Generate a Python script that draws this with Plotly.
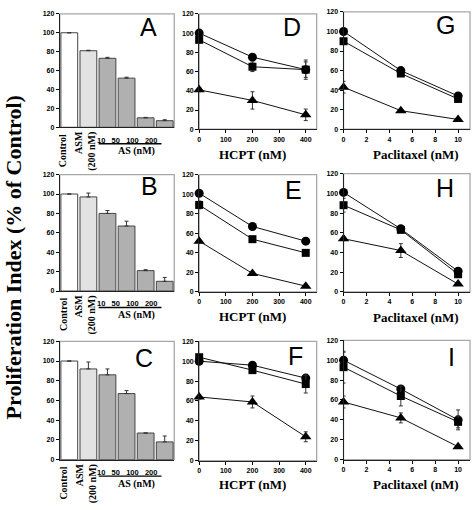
import plotly.graph_objects as go

W, H = 473, 510

# ---------------- data ----------------
bar_categories = ["Control", "ASM", "10", "50", "100", "200"]
bar_colors = ["#ffffff", "#e2e2e2", "#b0b0b0", "#b0b0b0", "#b0b0b0", "#b0b0b0"]

bar_A = [100, 81, 73, 52, 10, 7]
err_A = [0, 0.5, 1, 1, 0.5, 1]
bar_B = [100, 97, 80, 67, 21, 10]
err_B = [0, 4, 3, 5, 1, 4]
bar_C = [100, 92, 86, 67, 27, 18]
err_C = [0, 7, 6, 3, 0, 6]

hcpt_x = [0, 200, 400]
D_circle = [100, 75, 62]; D_circle_err = [2, 2, 8]
D_square = [93, 65, 62]; D_square_err = [2, 5, 10]
D_tri = [41, 30, 15]; D_tri_err = [2, 9, 6]

E_circle = [101, 67, 52]; E_circle_err = [2, 2, 3]
E_square = [89, 54, 40]; E_square_err = [4, 2, 2]
E_tri = [52, 19, 6]; E_tri_err = [2, 1, 1]

F_circle = [100, 96, 83]; F_circle_err = [2, 2, 2]
F_square = [104, 91, 77]; F_square_err = [2, 2, 9]
F_tri = [64, 59, 24]; F_tri_err = [2, 6, 5]

pac_x = [0, 5, 10]
G_circle = [100, 60, 34]; G_circle_err = [1, 1, 1]
G_square = [90, 57, 31]; G_square_err = [1, 1, 1]
G_tri = [43, 19, 10]; G_tri_err = [6, 1, 1]

H_circle = [101, 64, 21]; H_circle_err = [2, 2, 2]
H_square = [88, 63, 18]; H_square_err = [7, 2, 2]
H_tri = [54, 42, 8]; H_tri_err = [2, 7, 1]

I_circle = [100, 71, 40]; I_circle_err = [8, 2, 10]
I_square = [93, 64, 38]; I_square_err = [16, 10, 6]
I_tri = [58, 42, 13]; I_tri_err = [6, 5, 1]

y_ticks = [0, 20, 40, 60, 80, 100, 120]
hcpt_ticks = [0, 100, 200, 300, 400]
pac_ticks = [0, 2, 4, 6, 8, 10]

# ---------------- layout helpers ----------------
def fx(p):
    return p / W

def fy(p):
    return 1 - p / H

# panel boxes in pixels: (left, right, top, bottom)
boxes = {
    "A": (58, 173, 10, 125), "B": (58, 173, 173, 291), "C": (58, 173, 342, 462),
    "D": (198, 316, 10, 127), "E": (198, 316, 173, 292), "F": (198, 316, 342, 463),
    "G": (343, 470, 8, 127), "H": (343, 470, 172, 292), "I": (343, 470, 341, 462),
}
order = ["A", "B", "C", "D", "E", "F", "G", "H", "I"]
axn = {k: (i + 1) for i, k in enumerate(order)}

def xa(k):
    n = axn[k]
    return "x" if n == 1 else f"x{n}"

def ya(k):
    n = axn[k]
    return "y" if n == 1 else f"y{n}"

SERIF = "Liberation Serif, Times New Roman, serif"
SANS = "Liberation Sans, Arial, sans-serif"

fig = go.Figure()

bar_data = {"A": (bar_A, err_A), "B": (bar_B, err_B), "C": (bar_C, err_C)}
for k, (vals, errs) in bar_data.items():
    fig.add_trace(go.Bar(
        x=bar_categories, y=vals, xaxis=xa(k), yaxis=ya(k), width=0.88,
        marker=dict(color=bar_colors, line=dict(color="#444444", width=1)),
        error_y=dict(type="data", symmetric=False, array=errs, arrayminus=[0] * len(errs),
                     color="#333333", thickness=1, width=2),
        showlegend=False,
    ))

line_data = {
    "D": (hcpt_x, [(D_circle, D_circle_err, "circle", 9), (D_square, D_square_err, "square", 8), (D_tri, D_tri_err, "triangle-up", 10)]),
    "E": (hcpt_x, [(E_circle, E_circle_err, "circle", 9), (E_square, E_square_err, "square", 8), (E_tri, E_tri_err, "triangle-up", 10)]),
    "F": (hcpt_x, [(F_circle, F_circle_err, "circle", 9), (F_square, F_square_err, "square", 8), (F_tri, F_tri_err, "triangle-up", 10)]),
    "G": (pac_x, [(G_circle, G_circle_err, "circle", 9), (G_square, G_square_err, "square", 8), (G_tri, G_tri_err, "triangle-up", 10)]),
    "H": (pac_x, [(H_circle, H_circle_err, "circle", 9), (H_square, H_square_err, "square", 8), (H_tri, H_tri_err, "triangle-up", 10)]),
    "I": (pac_x, [(I_circle, I_circle_err, "circle", 9), (I_square, I_square_err, "square", 8), (I_tri, I_tri_err, "triangle-up", 10)]),
}
for k, (xs, series) in line_data.items():
    for vals, errs, sym, size in series:
        fig.add_trace(go.Scatter(
            x=xs, y=vals, xaxis=xa(k), yaxis=ya(k), mode="lines+markers",
            line=dict(color="#111111", width=1),
            marker=dict(symbol=sym, size=size, color="#000000"),
            error_y=dict(type="data", array=errs, color="#333333", thickness=1, width=2),
            cliponaxis=False, showlegend=False,
        ))

layout = dict(
    width=W, height=H, margin=dict(l=0, r=0, t=0, b=0),
    paper_bgcolor="white", plot_bgcolor="white", bargap=0.1,
)
tickfont = dict(family=SANS, size=7, color="#000000", weight="bold")
shapes = []
annotations = []
for k in order:
    l, r, t, b = boxes[k]
    n = axn[k]
    xkey = "xaxis" if n == 1 else f"xaxis{n}"
    ykey = "yaxis" if n == 1 else f"yaxis{n}"
    yax = dict(domain=[fy(b), fy(t)], anchor=xa(k), range=[0, 120], tickvals=y_ticks,
               ticks="outside", ticklen=3, tickcolor="#000", showgrid=False, zeroline=False,
               showline=True, linecolor="#222", linewidth=1, tickfont=tickfont,
               fixedrange=True)
    if k in ("A", "B", "C"):
        xax = dict(domain=[fx(l), fx(r)], anchor=ya(k), type="category",
                   range=[-0.5, 5.5], showticklabels=False, ticks="", showgrid=False,
                   zeroline=False, showline=True, linecolor="#222", linewidth=1)
    else:
        if k in ("D", "E", "F"):
            rng, tv = [0, 441], hcpt_ticks
        else:
            rng, tv = [0, 11.04], pac_ticks
        xax = dict(domain=[fx(l), fx(r)], anchor=ya(k), range=rng, tickvals=tv,
                   ticks="outside", ticklen=3, tickcolor="#000", showgrid=False,
                   zeroline=False, showline=True, linecolor="#222", linewidth=1,
                   tickfont=tickfont)
    layout[xkey] = xax
    layout[ykey] = yax
    shapes.append(dict(type="rect", xref=f"{xa(k)} domain", yref=f"{ya(k)} domain",
                       x0=0, x1=1, y0=0, y1=1, line=dict(color="#a8a8a8", width=1.3),
                       layer="below"))

# panel letters (pixel centres)
letters = {"A": (147, 23.5), "B": (148, 185), "C": (143, 359),
           "D": (291.5, 23.5), "E": (293, 189), "F": (295, 356.5),
           "G": (445, 21.5), "H": (444.5, 186.5), "I": (451, 357.5)}
for k, (cx, cy) in letters.items():
    annotations.append(dict(text=k, x=fx(cx), y=fy(cy), xref="paper", yref="paper",
                            showarrow=False, xanchor="center", yanchor="middle",
                            font=dict(family=SANS, size=25, color="#000")))

# bar-panel category labels
for k in ("A", "B", "C"):
    l, r, t, b = boxes[k]
    annotations.append(dict(text="<b>Control</b>", x=0, xshift=-6, xref=xa(k),
                            y=fy(b + 24), yref="paper", textangle=-90, showarrow=False,
                            xanchor="center", yanchor="middle",
                            font=dict(family=SERIF, size=10, color="#000")))
    annotations.append(dict(text="<b>ASM<br>(200 nM)</b>", x=1, xshift=-2.5, xref=xa(k),
                            y=fy(b + 24), yref="paper", textangle=-90, showarrow=False,
                            align="right", xanchor="center", yanchor="middle",
                            font=dict(family=SERIF, size=10, color="#000")))
    sp = "\u00a0" * 3
    annotations.append(dict(text="<b>10" + sp + "50" + sp + "100" + sp + "200</b>",
                            x=3, xshift=0, xref=xa(k), y=fy(b + 13), yref="paper", showarrow=False,
                            xanchor="center", yanchor="middle",
                            font=dict(family=SANS, size=7.5, color="#000")))
    shapes.append(dict(type="line", xref=xa(k), yref="paper", x0=1.54, x1=4.83,
                       y0=fy(b + 16.7), y1=fy(b + 16.7), line=dict(color="#000", width=1.3)))
    annotations.append(dict(text="<b>AS (nM)</b>", x=3.5, xshift=0, xref=xa(k),
                            y=fy(b + 24.5), yref="paper", showarrow=False,
                            xanchor="center", yanchor="middle",
                            font=dict(family=SERIF, size=10, color="#000")))

# line-panel axis titles
for k, cy in (("D", 153), ("E", 317), ("F", 487)):
    annotations.append(dict(text="<b>HCPT (nM)</b>", x=200, xref=xa(k), y=fy(cy), yref="paper",
                            showarrow=False, xanchor="center", yanchor="middle",
                            font=dict(family=SERIF, size=13, color="#000")))
for k, cy in (("G", 152.5), ("H", 318), ("I", 487.5)):
    annotations.append(dict(text="<b>Paclitaxel (nM)</b>", x=6.3, xref=xa(k), y=fy(cy), yref="paper",
                            showarrow=False, xanchor="center", yanchor="middle",
                            font=dict(family=SERIF, size=13, color="#000")))

# global y title
annotations.append(dict(text="<b>Proliferation Index (% of Control)</b>", x=fx(12), y=fy(257),
                        xref="paper", yref="paper", textangle=-90, showarrow=False,
                        xanchor="center", yanchor="middle",
                        font=dict(family=SERIF, size=22, color="#000")))

layout["shapes"] = shapes
layout["annotations"] = annotations
fig.update_layout(**layout)
fig.write_html(
    "out.html",
    config={"displayModeBar": False},
    post_script="document.body.style.margin='0';document.body.style.padding='0';"
                "document.body.style.overflow='hidden';",
)
